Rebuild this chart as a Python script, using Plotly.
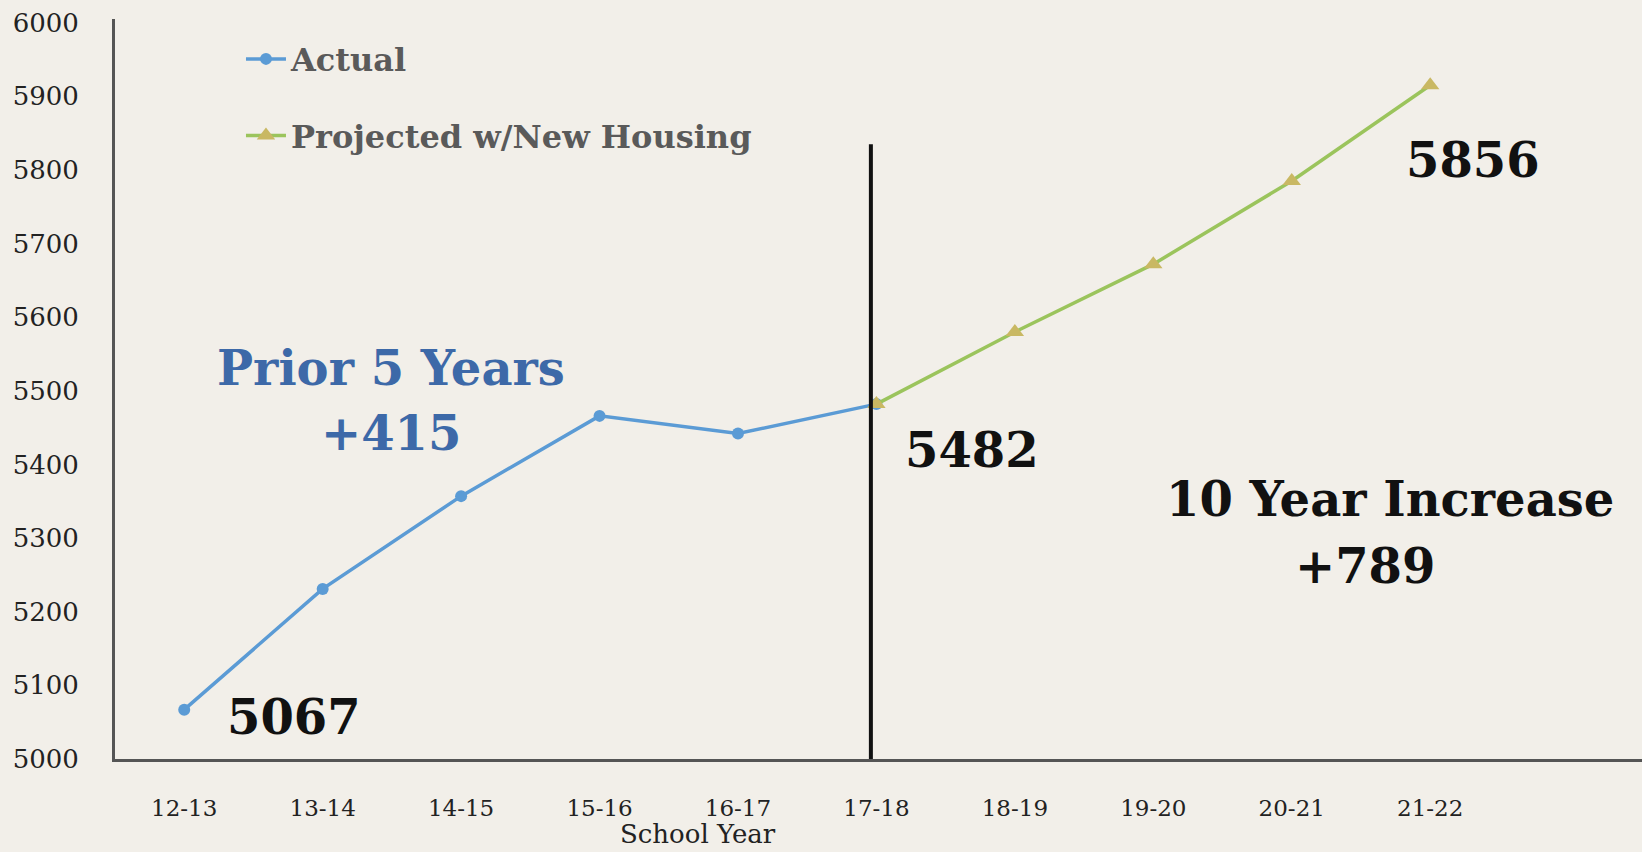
import plotly.graph_objects as go

years = ["12-13", "13-14", "14-15", "15-16", "16-17", "17-18", "18-19", "19-20", "20-21", "21-22"]
actual_years = years[:6]
actual_vals = [5067, 5231, 5357, 5466, 5442, 5482]
proj_years = years[5:]
proj_vals = [5482, 5580, 5672, 5785, 5915]
y_ticks = [5000, 5100, 5200, 5300, 5400, 5500, 5600, 5700, 5800, 5900, 6000]

SERIF = "DejaVu Serif"
BG = "#F2EFE9"

fig = go.Figure()
fig.add_trace(go.Scatter(
    x=actual_years, y=actual_vals, name="Actual", mode="lines+markers",
    line=dict(color="#5B9BD5", width=3.5),
    marker=dict(symbol="circle", size=12, color="#5B9BD5"),
    legendgroup="a",
))
fig.add_trace(go.Scatter(
    x=proj_years, y=proj_vals, name="Projected w/New Housing", mode="lines+markers",
    line=dict(color="#9BC45C", width=3.5),
    marker=dict(symbol="triangle-up", size=16, color="#C9B863"),
    legendgroup="p",
))

# vertical divider at 17-18
fig.add_shape(type="line", xref="x", yref="y", x0=4.96, x1=4.96, y0=5000, y1=5835,
              line=dict(color="#111111", width=4))

big = dict(family=SERIF, size=48, color="#111111")
blue = dict(family=SERIF, size=48, color="#3D69A8")
anns = [
    ("<b>Prior 5 Years</b>", 1.49, 5531, blue),
    ("<b>+415</b>", 1.49, 5443, blue),
    ("<b>5067</b>", 0.79, 5057, big),
    ("<b>5482</b>", 5.69, 5420, big),
    ("<b>5856</b>", 9.31, 5814, big),
    ("<b>10 Year Increase</b>", 8.71, 5353, big),
    ("<b>+789</b>", 8.53, 5262, big),
]
for t, x, y, f in anns:
    fig.add_annotation(text=t, x=x, y=y, xref="x", yref="y", showarrow=False, font=f,
                       xanchor="center", yanchor="middle")

fig.add_annotation(text="School Year", x=3.71, y=-0.102, xref="x", yref="paper",
                   xanchor="center", yanchor="middle",
                   showarrow=False, font=dict(family=SERIF, size=26, color="#222222"))

fig.update_layout(
    width=1642, height=852,
    paper_bgcolor=BG, plot_bgcolor=BG,
    margin=dict(l=115, r=0, t=19, b=93),
    showlegend=True,
    legend=dict(x=0.0825, y=0.983, xanchor="left", yanchor="top",
                font=dict(family=SERIF, size=32, color="#5A5A5A", weight="bold"),
                bgcolor="rgba(0,0,0,0)", tracegroupgap=32, itemwidth=40),
    font=dict(family=SERIF),
)
fig.update_xaxes(
    type="category", categoryorder="array", categoryarray=years,
    range=[-0.5, 10.53], showgrid=False, zeroline=False,
    showline=True, linecolor="#555555", linewidth=3,
    ticks="", ticklabelstandoff=26,
    tickfont=dict(family=SERIF, size=23, color="#222222"),
)
fig.update_yaxes(
    range=[5000, 6005], tickvals=y_ticks, showgrid=False, zeroline=False,
    showline=True, linecolor="#555555", linewidth=3,
    ticks="", ticklabelstandoff=28,
    tickfont=dict(family=SERIF, size=26, color="#222222"),
)

fig.write_html("out.html", config={"displayModeBar": False},
               post_script="document.body.style.margin='0';document.body.style.overflow='hidden';")
